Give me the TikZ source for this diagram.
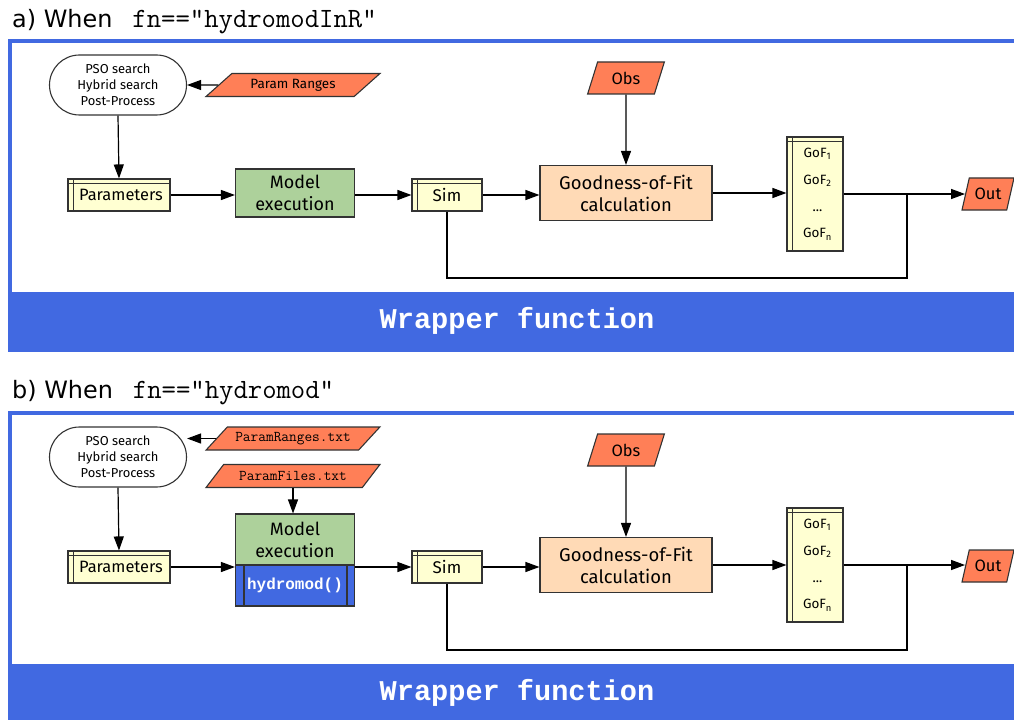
\documentclass[tikz,border=0pt]{standalone}
\usepackage{fontspec}
\setmainfont{Fira Sans}
\newfontfamily\titlefont{DejaVu Sans}
\newfontfamily\boldmono{Liberation Mono}
\usetikzlibrary{shapes.geometric,arrows.meta}

\definecolor{wrapblue}{HTML}{4169E1}
\definecolor{inred}{HTML}{FF7F57}
\definecolor{storeyel}{HTML}{FFFFD2}
\definecolor{modgreen}{HTML}{ADD19B}
\definecolor{gofpeach}{HTML}{FFDAB6}

\tikzset{
  box/.style={draw=black!80, line width=1.1bp, rectangle, align=center, inner sep=0pt},
  store/.style={box, fill=storeyel,
    path picture={
      \draw[line width=0.8bp] ([xshift=5bp]path picture bounding box.north west) -- ([xshift=5bp]path picture bounding box.south west);
      \draw[line width=0.8bp] ([yshift=-4bp]path picture bounding box.north west) -- ([yshift=-4bp]path picture bounding box.north east);}},
  oval/.style={box, rounded corners=30bp, minimum width=137bp, minimum height=60bp, font=\fontsize{13}{16}\selectfont},
  datain/.style={draw=black!80, line width=1.1bp, trapezium, trapezium stretches=true, fill=inred, inner sep=0pt},
  predef/.style={box, fill=wrapblue, text=white, font=\boldmono\bfseries\fontsize{16}{16}\selectfont,
    path picture={
      \draw[line width=2bp] ([xshift=8bp]path picture bounding box.north west) -- ([xshift=8bp]path picture bounding box.south west);
      \draw[line width=2bp] ([xshift=-8bp]path picture bounding box.north east) -- ([xshift=-8bp]path picture bounding box.south east);}},
  flow/.style={line width=1.2bp, -{Triangle[length=14bp,width=10bp]}},
  link/.style={line width=1.2bp},
  heading/.style={anchor=base west, inner sep=0pt},
  wraptext/.style={text=white, font=\boldmono\bfseries\fontsize{28.7}{28.7}\selectfont}
}

\begin{document}
\begin{tikzpicture}[x=1bp,y=-1bp]
\useasboundingbox (0,0) rectangle (1014,720);

% a) frame and wrapper bar
\draw[wrapblue, line width=4bp] (10,41) rectangle (1040,350);
\fill[wrapblue] (8,292) rectangle (1040,352);
\node[wraptext] (wrapA) at (517,321) {Wrapper function};
\node[heading] (titleA) at (12,28) {{\titlefont\fontsize{24}{24}\selectfont a) When}\hspace{20bp}{\ttfamily\fontsize{28}{28}\selectfont fn=="hydromodInR"}};

% a) nodes
\node[oval] (psoA) at (118,85) {PSO search\\Hybrid search\\Post-Process};
\node[datain, trapezium left angle=34, trapezium right angle=146, minimum width=174bp, minimum height=23bp, font=\fontsize{13.5}{13.5}\selectfont] (rangeA) at (293,85) {Param Ranges};
\node[store, minimum width=102bp, minimum height=32bp, font=\fontsize{16.5}{17}\selectfont] (parA) at (119,195) {\hspace{4bp}Parameters};
\node[box, fill=modgreen, minimum width=119bp, minimum height=48bp, font=\fontsize{18}{22}\selectfont] (modA) at (295,193) {Model\\execution};
\node[store, minimum width=70bp, minimum height=32bp, font=\fontsize{17}{17}\selectfont] (simA) at (447,195) {Sim};
\node[datain, trapezium left angle=68, trapezium right angle=112, minimum width=77bp, minimum height=32bp, font=\fontsize{16.5}{16.5}\selectfont] (obsA) at (626,78) {Obs};
\node[box, fill=gofpeach, minimum width=172bp, minimum height=55bp, font=\fontsize{18.5}{22}\selectfont] (gofA) at (626,193) {Goodness-of-Fit\\calculation};
\node[store, minimum width=56bp, minimum height=114bp, font=\fontsize{13.5}{27}\selectfont] (listA) at (815,194) {\hspace{5bp}GoF\textsubscript{1}\\\hspace{5bp}GoF\textsubscript{2}\\\hspace{5bp}...\\\hspace{5bp}GoF\textsubscript{n}};
\node[datain, trapezium left angle=66, trapezium right angle=114, minimum width=52bp, minimum height=32bp, font=\fontsize{16.5}{16.5}\selectfont] (outA) at (988,194) {Out};
\coordinate (backA) at (907,278);

% a) connectors
\draw[flow] (rangeA.west) -- (psoA.east);
\draw[flow] (psoA.south) -- (parA.north);
\draw[flow] (parA.east) -- (parA.east -| modA.west);
\draw[flow] (modA.east |- simA.west) -- (simA.west);
\draw[flow] (simA.east) -- (simA.east -| gofA.west);
\draw[flow] (obsA.south) -- (gofA.north);
\draw[flow] (gofA.east) -- (gofA.east -| listA.west);
\draw[flow] (listA.east) -- (listA.east -| outA.west);
\draw[link] (simA.south) |- (backA) -- (backA |- listA.east);

% b) frame and wrapper bar
\draw[wrapblue, line width=4bp] (10,413) rectangle (1040,722);
\fill[wrapblue] (8,664) rectangle (1040,724);
\node[wraptext] (wrapB) at (517,693) {Wrapper function};
\node[heading] (titleB) at (12,398) {{\titlefont\fontsize{24}{24}\selectfont b) When}\hspace{20bp}{\ttfamily\fontsize{28}{28}\selectfont fn=="hydromod"}};

% b) nodes
\node[oval] (psoB) at (118,457) {PSO search\\Hybrid search\\Post-Process};
\node[datain, trapezium left angle=34, trapezium right angle=146, minimum width=174bp, minimum height=23bp, font=\ttfamily\fontsize{15}{15}\selectfont] (rangeB) at (293,438.5) {ParamRanges.txt};
\node[datain, trapezium left angle=34, trapezium right angle=146, minimum width=174bp, minimum height=23bp, font=\ttfamily\fontsize{15}{15}\selectfont] (fileB) at (293,476) {ParamFiles.txt};
\node[store, minimum width=102bp, minimum height=32bp, font=\fontsize{16.5}{17}\selectfont] (parB) at (119,567) {\hspace{4bp}Parameters};
\node[box, fill=modgreen, minimum width=119bp, minimum height=51bp, font=\fontsize{18}{22}\selectfont] (modB) at (295,539.5) {Model\\execution};
\node[predef, minimum width=119bp, minimum height=41bp] (hydB) at (295,585.5) {hydromod()};
\node[store, minimum width=70bp, minimum height=32bp, font=\fontsize{17}{17}\selectfont] (simB) at (447,567) {Sim};
\node[datain, trapezium left angle=68, trapezium right angle=112, minimum width=77bp, minimum height=32bp, font=\fontsize{16.5}{16.5}\selectfont] (obsB) at (626,450) {Obs};
\node[box, fill=gofpeach, minimum width=172bp, minimum height=55bp, font=\fontsize{18.5}{22}\selectfont] (gofB) at (626,565) {Goodness-of-Fit\\calculation};
\node[store, minimum width=56bp, minimum height=114bp, font=\fontsize{13.5}{27}\selectfont] (listB) at (815,565) {\hspace{5bp}GoF\textsubscript{1}\\\hspace{5bp}GoF\textsubscript{2}\\\hspace{5bp}...\\\hspace{5bp}GoF\textsubscript{n}};
\node[datain, trapezium left angle=66, trapezium right angle=114, minimum width=52bp, minimum height=32bp, font=\fontsize{16.5}{16.5}\selectfont] (outB) at (988,566) {Out};
\coordinate (backB) at (907,650);

% b) connectors
\draw[flow] (rangeB.west) -- (rangeB.west -| psoB.east);
\draw[flow] (fileB.south) -- (fileB.south |- modB.north);
\draw[flow] (psoB.south) -- (parB.north);
\draw[flow] (parB.east) -- (parB.east -| modB.west);
\draw[flow] (modB.east |- simB.west) -- (simB.west);
\draw[flow] (simB.east) -- (simB.east -| gofB.west);
\draw[flow] (obsB.south) -- (gofB.north);
\draw[flow] (gofB.east) -- (gofB.east -| listB.west);
\draw[flow] (listB.east) -- (listB.east -| outB.west);
\draw[link] (simB.south) |- (backB) -- (backB |- listB.east);
\end{tikzpicture}
\end{document}
